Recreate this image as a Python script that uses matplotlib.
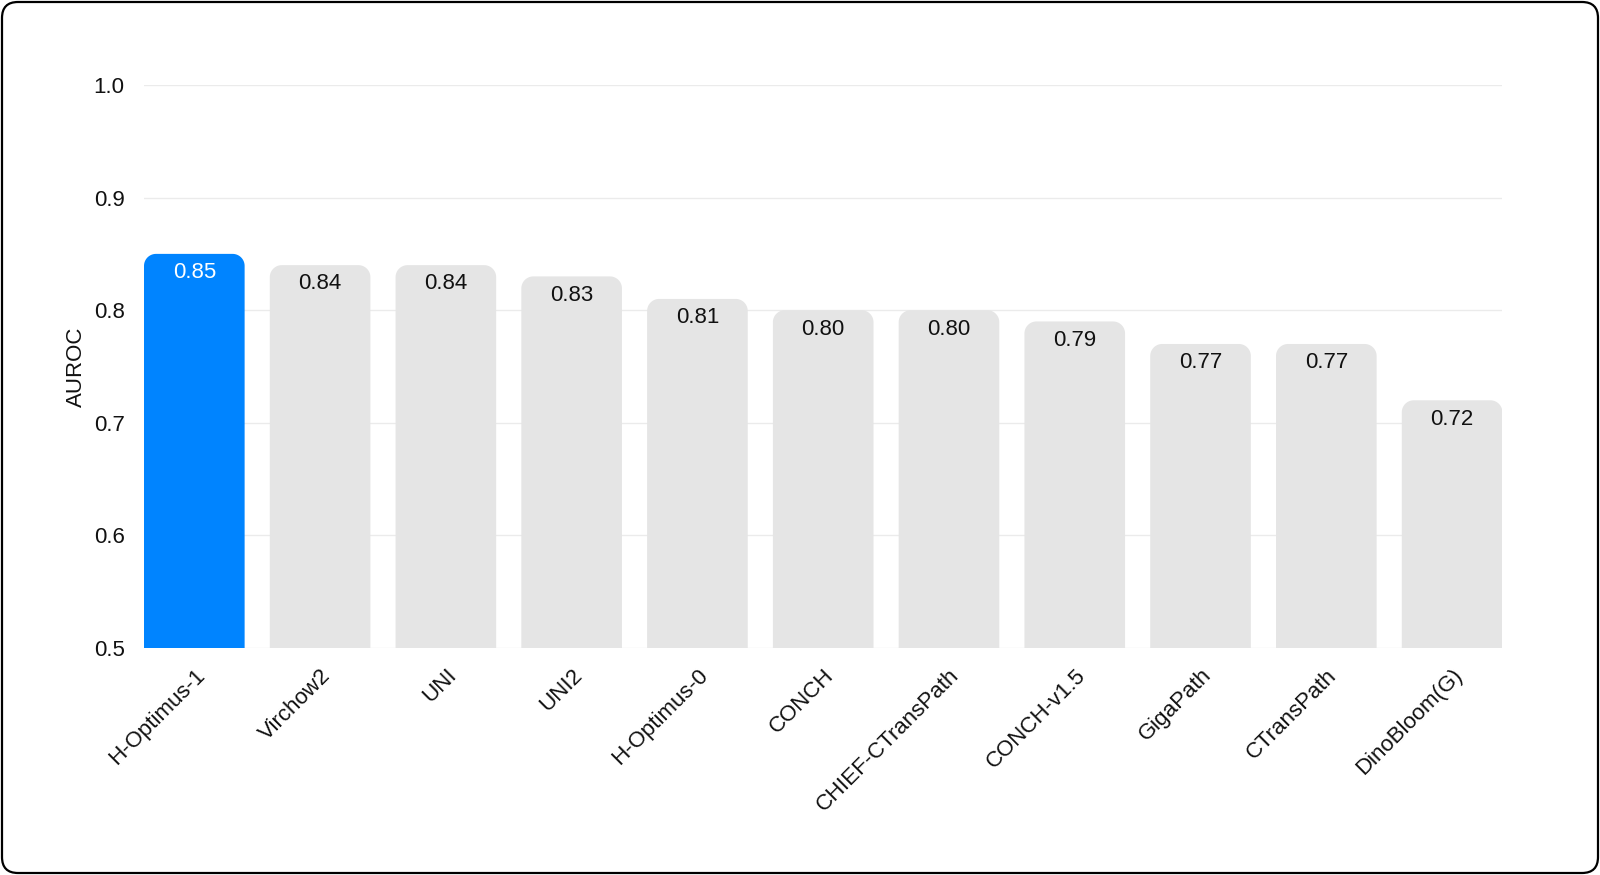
import matplotlib
matplotlib.use('Agg')
import matplotlib.pyplot as plt
import numpy as np
from matplotlib.patches import FancyBboxPatch
from matplotlib.transforms import IdentityTransform

models = ['H-Optimus-1', 'Virchow2', 'UNI', 'UNI2', 'H-Optimus-0', 'CONCH',
          'CHIEF-CTransPath', 'CONCH-v1.5', 'GigaPath', 'CTransPath', 'DinoBloom(G)']
auroc = [0.85, 0.84, 0.84, 0.83, 0.81, 0.80, 0.80, 0.79, 0.77, 0.77, 0.72]
yticks = [0.5, 0.6, 0.7, 0.8, 0.9, 1.0]

BLUE = '#0084ff'
GREY = '#e5e5e5'

def main():
    plt.rcParams['font.family'] = ['Liberation Sans', 'DejaVu Sans']

    fig = plt.figure(figsize=(16, 8.75), dpi=100)
    ax_w, ax_h = 0.849, 0.6435
    ax = fig.add_axes([0.09, 0.2594, ax_w, ax_h])

    ymin, ymax = 0.5, 1.0
    xmin, xmax = -0.4, len(models) - 0.6
    ax.set_xlim(xmin, xmax)
    ax.set_ylim(ymin, ymax)

    # corner radius of ~12px, turned into data units for each axis
    rad = 12
    rx = rad / (ax_w * 1600 / (xmax - xmin))
    ry = rad / (ax_h * 875 / (ymax - ymin))
    t = np.linspace(0, np.pi / 2, 20)

    colors = [BLUE] + [GREY] * (len(models) - 1)
    bars = ax.bar(range(len(models)), auroc, width=0.8, color=colors)
    for b, c in zip(bars, colors):
        x0, w, h = b.get_x(), b.get_width(), b.get_height()
        b.set_visible(False)
        top = b.get_y() + h
        x1 = x0 + w
        # right corner then left corner
        xs = np.concatenate([[x1], x1 - rx + rx * np.cos(t), x0 + rx - rx * np.sin(t), [x0]])
        ys = np.concatenate([[ymin - 0.05], top - ry + ry * np.sin(t),
                             top - ry + ry * np.cos(t), [ymin - 0.05]])
        ax.fill(xs, ys, color=c, lw=0, zorder=2)

    for i, v in enumerate(auroc):
        ax.annotate('%.2f' % v, (i, v), xytext=(0, -6), textcoords='offset points',
                    ha='center', va='top', fontsize=16,
                    color='white' if i == 0 else '#111111', zorder=3)

    ax.set_xlim(xmin, xmax)
    ax.set_ylim(ymin, ymax)
    ax.set_yticks(yticks)
    ax.set_yticklabels(['%.1f' % t for t in yticks])
    ax.set_xticks(range(len(models)))
    ax.set_xticklabels(models, rotation=45, ha='right', rotation_mode='anchor')
    ax.tick_params(axis='both', length=0, labelsize=16, colors='#111111')
    ax.tick_params(axis='y', pad=14)
    ax.tick_params(axis='x', pad=12)
    ax.set_ylabel('AUROC', fontsize=16, color='#111111', labelpad=5)

    ax.grid(axis='y', color='#ebebeb', linewidth=1)
    ax.set_axisbelow(True)
    for s in ax.spines.values():
        s.set_visible(False)

    border = FancyBboxPatch((2, 2), 1596, 871,
                            boxstyle='round,pad=0,rounding_size=16',
                            transform=IdentityTransform(),
                            facecolor='none', edgecolor='black', linewidth=1.6)
    fig.add_artist(border)

    fig.savefig('out.png', dpi=100, facecolor='white')

if __name__ == '__main__':
    main()
